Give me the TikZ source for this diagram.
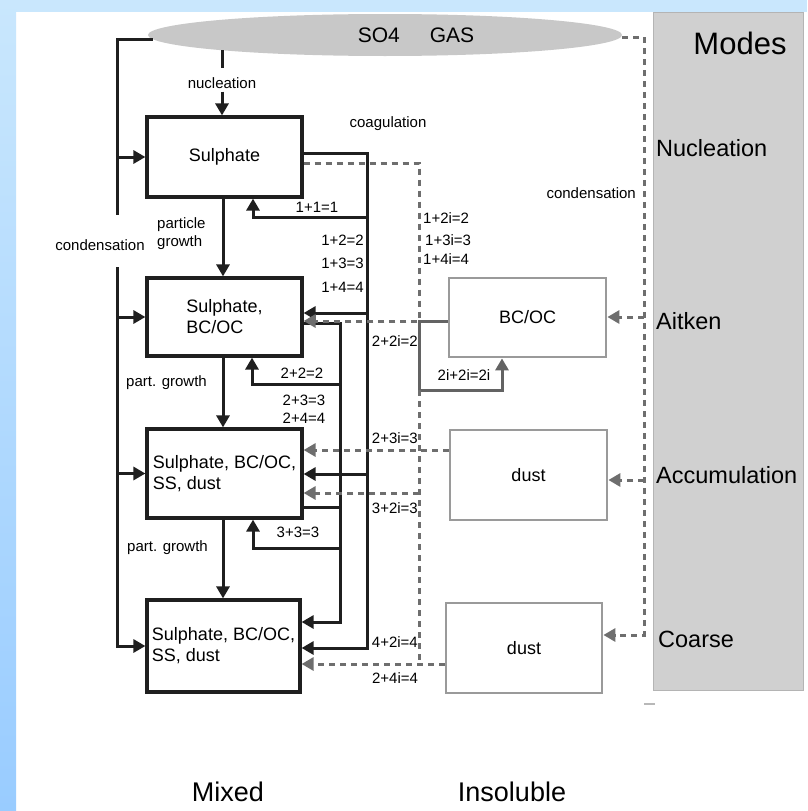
\documentclass[tikz,border=0pt]{standalone}
\usepackage{fontspec}
\setmainfont{Liberation Sans}
\usetikzlibrary{arrows.meta,calc,shapes.geometric}
\definecolor{bluetop}{HTML}{C9E7FD}
\definecolor{bluebot}{HTML}{99CCFF}
\definecolor{panelgray}{HTML}{D0D0D0}
\definecolor{paneledge}{HTML}{B4B4B4}
\definecolor{ellgray}{HTML}{C8C8C8}
\definecolor{dashgray}{HTML}{6E6E6E}
\definecolor{boxgray}{HTML}{9A9A9A}
\definecolor{loopgray}{HTML}{636363}
\begin{document}
\begin{tikzpicture}[x=1pt,y=-1pt,
  blk/.style={line width=3pt,draw=black!88},
  arr/.style={-{Triangle[length=12pt,width=13pt]}},
  gdash/.style={line width=3pt,draw=dashgray,dash pattern=on 6pt off 5pt},
  gsol/.style={line width=3pt,draw=loopgray},
  mixbox/.style={draw=black!88,line width=3.2pt,fill=white,inner sep=0pt,font=\fontsize{18}{21}\selectfont,align=left},
  insbox/.style={draw=boxgray,line width=2.8pt,fill=white,inner sep=0pt,font=\fontsize{18}{21}\selectfont},
  lbl/.style={font=\fontsize{15}{18}\selectfont,inner sep=0pt},
  mode/.style={font=\fontsize{23.5}{28}\selectfont,anchor=west,inner sep=0pt},
  big/.style={font=\fontsize{27}{30}\selectfont,inner sep=0pt}]
\useasboundingbox (0,0) rectangle (807,811);
% background
\fill[white] (0,0) rectangle (807,811);
\fill[bluetop] (0,0) rectangle (807,12);
\shade[top color=bluetop,bottom color=bluebot] (0,0) rectangle (16,811);

% modes panel
\node[draw=paneledge,line width=1pt,fill=panelgray,minimum width=150pt,minimum height=678pt,inner sep=0pt] (modes) at (728,351) {};
\node[font=\fontsize{31}{36}\selectfont,inner sep=0pt] (modestitle) at (740,43) {Modes};
\node[mode] (mnuc) at (656,148) {Nucleation};
\node[mode] (mait) at (656,321) {Aitken};
\node[mode] (macc) at (656,475) {Accumulation};
\node[mode] (mcoa) at (658,639) {Coarse};
\draw[line width=1.5pt,draw=boxgray!70] (644,704) -- (655,704);

% gas ellipse
\node[ellipse,fill=ellgray,minimum width=474pt,minimum height=42pt,inner sep=0pt] (so4) at (385,35) {};
\node[font=\fontsize{21}{24}\selectfont,inner sep=0pt] (so4txt) at (416,35) {SO4\hspace{30pt}GAS};

% mixed boxes
\node[mixbox,minimum width=155pt,minimum height=80pt] (b1) at (224.5,157) {Sulphate};
\node[mixbox,minimum width=155pt,minimum height=78pt] (b2) at (224.5,317) {Sulphate,\\BC/OC};
\node[mixbox,minimum width=155pt,minimum height=89pt] (b3) at (224.5,473.5) {Sulphate, BC/OC,\\SS, dust};
\node[mixbox,minimum width=153pt,minimum height=92pt] (b4) at (223.5,646) {Sulphate, BC/OC,\\SS, dust};

% insoluble boxes
\node[insbox,minimum width=157pt,minimum height=79pt] (bc) at (527.5,317.5) {BC/OC};
\node[insbox,minimum width=157pt,minimum height=90pt] (d1) at (528.5,475) {dust};
\node[insbox,minimum width=156pt,minimum height=90pt] (d2) at (524,648) {dust};

% condensation (left)
\coordinate (cT) at (117,39);
\coordinate (cG1) at (117,215);
\coordinate (cG2) at (117,267);
\draw[blk] ($(so4.west)+(5,4)$) -- (cT) -- (cG1);
\node[lbl] (condL) at (100,245) {condensation};
\draw[blk,arr] (cG2) |- (b4.west);
\draw[blk,arr] (b1.west -| cT) -- (b1.west);
\draw[blk,arr] (b2.west -| cT) -- (b2.west);
\draw[blk,arr] (b3.west -| cT) -- (b3.west);

% nucleation
\coordinate (nu1) at (222,50);
\coordinate (nu2) at (222,68);
\draw[blk] (nu1) -- (nu2);
\node[lbl] (nucl) at (222,83) {nucleation};
\draw[blk,arr] ($(nucl.south)+(0,3)$) -- (nucl.south |- b1.north);

% particle growth
\coordinate (gx) at (223,0);
\draw[blk,arr] (b1.south -| gx) -- (b2.north -| gx);
\draw[blk,arr] (b2.south -| gx) -- (b3.north -| gx);
\draw[blk,arr] (b3.south -| gx) -- (b4.north -| gx);
\node[lbl,anchor=west,align=left] (pg1) at (157,234) {particle\\growth};
\node[lbl,anchor=west] (pg2) at (126,383) {part. growth};
\node[lbl,anchor=west] (pg3) at (127,548) {part. growth};

% coagulation trunk A (from box 1)
\coordinate (A0) at (367,153);
\coordinate (A1) at (367,217);
\coordinate (A2) at (367,313);
\coordinate (A3) at (367,474);
\coordinate (A4) at (367,648);
\coordinate (L11) at (253,217);
\draw[blk,arr] (b1.east |- A0) -- (A0) -- (A4) -- (b4.east |- A4);
\draw[blk,arr] (A1) -- (L11) -- (L11 |- b1.south);
\draw[blk,arr] (A2) -- (b2.east |- A2);
\draw[blk,arr] (A3) -- (b3.east |- A3);
\node[lbl] (coag) at (388,124) {coagulation};
\node[lbl] (l11) at (317,207) {1+1=1};
\node[lbl,anchor=east] (l12) at (364,240) {1+2=2};
\node[lbl,anchor=east] (l13) at (364,263) {1+3=3};
\node[lbl,anchor=east] (l14) at (364,287) {1+4=4};

% coagulation trunk B (from box 2)
\coordinate (B0) at (340,323);
\coordinate (B1) at (340,384);
\coordinate (B2) at (340,507);
\coordinate (B3) at (340,548);
\coordinate (B4) at (340,622);
\coordinate (L22) at (252,384);
\coordinate (L33) at (253,548);
\draw[blk,arr] (b2.east |- B0) -- (B0) -- (B4) -- (b4.east |- B4);
\draw[blk,arr] (B1) -- (L22) -- (L22 |- b2.south);
\draw[blk] (b3.east |- B2) -- (B2);
\draw[blk,arr] (B3) -- (L33) -- (L33 |- b3.south);
\node[lbl] (l22) at (302,373) {2+2=2};
\node[lbl] (l23) at (304,400) {2+3=3};
\node[lbl] (l24) at (304,418) {2+4=4};
\node[lbl] (l33) at (298,532) {3+3=3};

% insoluble coagulation (grey)
\coordinate (D0) at (419,163);
\coordinate (D1) at (419,321);
\coordinate (E1) at (419,390);
\coordinate (E2) at (502,390);
\coordinate (F0) at (419,493);
\coordinate (F1) at (419,664);
\coordinate (G0) at (449,450);
\coordinate (H0) at (446,664);
\draw[gdash,arr] (b1.east |- D0) -- (D0) -- (D1) -- (b2.east |- D1);
\draw[gsol,arr] (bc.west |- D1) -- (D1) -- (E1) -- (E2) -- (E2 |- bc.south);
\draw[gdash] (E1) -- (F1);
\draw[gdash,arr] (F0) -- (b3.east |- F0);
\draw[gdash,arr] (d1.west |- G0) -- (b3.east |- G0);
\draw[gdash,arr] (d2.west |- H0) -- (b4.east |- H0);
\node[lbl,anchor=west] (l12i) at (423,218) {1+2i=2};
\node[lbl,anchor=west] (l13i) at (425,240) {1+3i=3};
\node[lbl,anchor=west] (l14i) at (423,259) {1+4i=4};
\node[lbl,anchor=east] (l22i) at (418,341) {2+2i=2};
\node[lbl] (l2i2i) at (464,375) {2i+2i=2i};
\node[lbl,anchor=east] (l23i) at (418,438) {2+3i=3};
\node[lbl,anchor=east] (l32i) at (418,508) {3+2i=3};
\node[lbl,anchor=east] (l42i) at (418,642) {4+2i=4};
\node[lbl] (l24i) at (395,678) {2+4i=4};

% condensation (right)
\coordinate (R0) at (644,37);
\coordinate (R1) at (644,317);
\coordinate (R2) at (644,480);
\coordinate (R3) at (644,635);
\draw[gdash,arr] (so4.east |- R0) -- (R0) -- (R3) -- (d2.east |- R3);
\draw[gdash,arr] (R1) -- (bc.east |- R1);
\draw[gdash,arr] (R2) -- (d1.east |- R2);
\node[lbl,anchor=east] (condR) at (636,193) {condensation};

% bottom titles
\node[big] (mixed) at (228,792) {Mixed};
\node[big] (insol) at (512,792) {Insoluble};
\end{tikzpicture}
\end{document}
